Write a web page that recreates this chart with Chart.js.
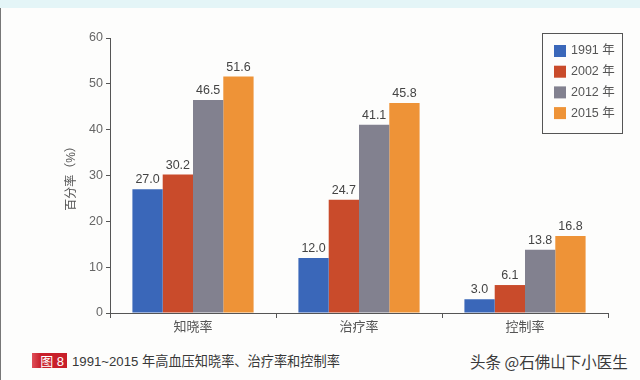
<!DOCTYPE html>
<html>
<head>
<meta charset="utf-8">
<script src="https://cdn.jsdelivr.net/npm/chart.js@4/dist/chart.umd.min.js"></script>
<style>
  html, body { margin: 0; padding: 0; background: #fdfdfc; }
  #wrap { position: relative; width: 640px; height: 380px; overflow: hidden; background: #fdfdfc; }
  #topband { position: absolute; left: 0; top: 0; width: 640px; height: 8px; background: #e4f5f7; }
  #leftline { position: absolute; left: 0; top: 8px; width: 1px; height: 372px; background: #777; }
  #cv { position: absolute; left: 0; top: 0; }
  #cap { position: absolute; left: 32px; top: 352px; height: 17px; display: flex; align-items: center;
         font-family: "Liberation Sans", "Noto Sans CJK SC", sans-serif; font-size: 13.2px; color: #383838; }
  #cap .tag { background: linear-gradient(to right, #e0505a 0%, #c81f2a 25%, #c81f2a 100%); color: #fff; height: 15px; width: 35px;
              display: inline-flex; align-items: center; justify-content: flex-end; padding-right: 3px; box-sizing: border-box;
              font-size: 13px; margin-right: 5px; }
  #wm { position: absolute; left: 470px; top: 350px; font-family: "Noto Sans CJK SC", sans-serif; font-size: 15.5px; color: #3a3a3a; }
</style>
</head>
<body>
<div id="wrap">
  <div id="topband"></div>
  <div id="leftline"></div>
  <canvas id="cv" width="640" height="345"></canvas>
  <div id="cap"><span class="tag">图 8</span><span>1991~2015 年高血压知晓率、治疗率和控制率</span></div>
  <div id="wm">头条 @石佛山下小医生</div>
</div>
<script>
const categories = ["知晓率", "治疗率", "控制率"];
const seriesNames = ["1991 年", "2002 年", "2012 年", "2015 年"];
const values1991 = [27.0, 12.0, 3.0];
const values2002 = [30.2, 24.7, 6.1];
const values2012 = [46.5, 41.1, 13.8];
const values2015 = [51.6, 45.8, 16.8];
const yTicks = [0, 10, 20, 30, 40, 50, 60];
const seriesColors = ["#3a67b9", "#c94b2b", "#82818f", "#ee9337"];

const FONT = '"Liberation Sans", "Noto Sans CJK SC", sans-serif';

const valueLabels = {
  id: "valueLabels",
  afterDatasetsDraw(chart) {
    const ctx = chart.ctx;
    ctx.save();
    ctx.font = "12.5px " + FONT;
    ctx.fillStyle = "#444";
    ctx.textAlign = "center";
    ctx.textBaseline = "bottom";
    chart.data.datasets.forEach((ds, i) => {
      const meta = chart.getDatasetMeta(i);
      meta.data.forEach((bar, j) => {
        ctx.fillText(ds.data[j].toFixed(1), bar.x, bar.y - 3);
      });
    });
    ctx.restore();
  }
};

const boxLegend = {
  id: "boxLegend",
  afterDraw(chart) {
    const ctx = chart.ctx;
    ctx.save();
    ctx.strokeStyle = "#555";
    ctx.lineWidth = 1;
    ctx.strokeRect(542.5, 33.5, 80, 100);
    ctx.font = "12.5px " + FONT;
    ctx.textBaseline = "middle";
    ctx.textAlign = "left";
    chart.data.datasets.forEach((ds, i) => {
      const cy = 51 + i * 20.7;
      ctx.fillStyle = ds.backgroundColor;
      ctx.fillRect(554, cy - 6, 12, 12);
      ctx.fillStyle = "#555";
      ctx.fillText(ds.label, 571, cy);
    });
    ctx.restore();
  }
};

const allSeries = [values1991, values2002, values2012, values2015];

new Chart(document.getElementById("cv"), {
  type: "bar",
  data: {
    labels: categories,
    datasets: allSeries.map((v, i) => ({
      label: seriesNames[i],
      data: v,
      backgroundColor: seriesColors[i],
      borderWidth: 0,
      barPercentage: 1.0,
      categoryPercentage: 0.73
    }))
  },
  options: {
    responsive: false,
    animation: false,
    layout: { padding: { left: 60, right: 32, top: 38, bottom: 0 } },
    plugins: { legend: { display: false }, tooltip: { enabled: false } },
    scales: {
      x: {
        afterFit(s) { s.height = 32; },
        grid: { display: true, drawOnChartArea: false, color: "#555", tickLength: 5, offset: true },
        border: { color: "#555", width: 1 },
        ticks: { color: "#555", font: { family: FONT, size: 13 }, padding: 2 }
      },
      y: {
        min: 0, max: 60,
        afterFit(s) { s.width = 50; },
        afterBuildTicks(s) { s.ticks = yTicks.map(v => ({ value: v })); },
        grid: { display: true, drawOnChartArea: false, color: "#555", tickLength: 4 },
        border: { color: "#555", width: 1 },
        ticks: { color: "#666", font: { family: FONT, size: 12.5 }, padding: 3 },
        title: { display: true, text: "百分率（%）", color: "#555", font: { family: FONT, size: 12 }, padding: { top: 4, bottom: 4 } }
      }
    }
  },
  plugins: [valueLabels, boxLegend]
});
</script>
</body>
</html>
